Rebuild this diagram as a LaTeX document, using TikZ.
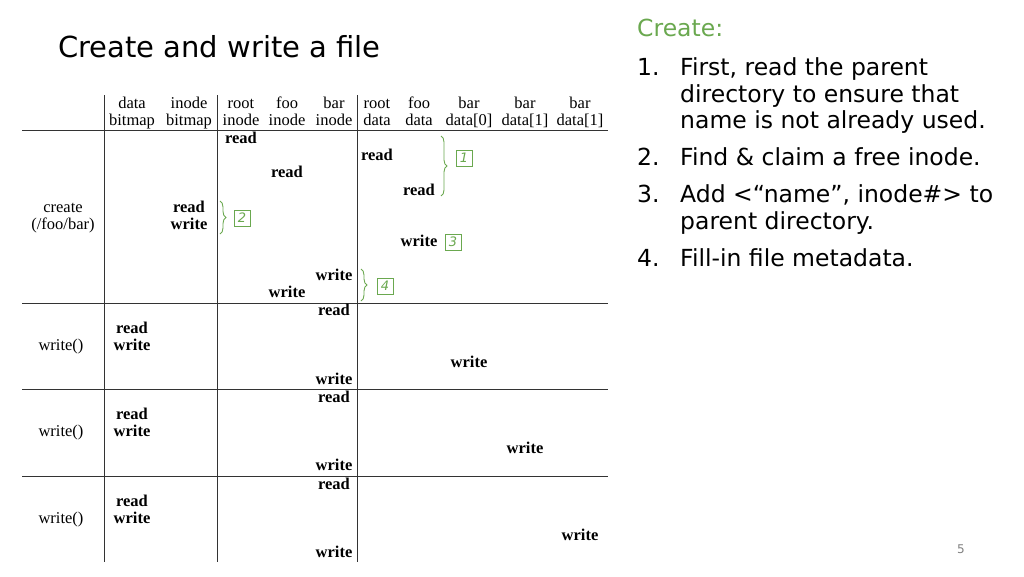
\documentclass[tikz,border=0pt]{standalone}
\usepackage{fontspec}
\setmainfont{Liberation Serif}
\newfontfamily\ui{DejaVu Sans}
\usetikzlibrary{decorations.pathreplacing}
\definecolor{gr}{HTML}{6AA84F}
\tikzset{
 hd/.style={font=\fontsize{16.5}{17}\selectfont, anchor=base, inner sep=0pt},
 op/.style={font=\fontsize{16.5}{17}\selectfont\bfseries, anchor=base, inner sep=0pt},
 lab/.style={font=\fontsize{16.5}{17}\selectfont, anchor=base, inner sep=0pt},
 gl/.style={line width=0.9pt, draw=black!80},
 br/.style={decorate, decoration={brace, amplitude=6pt}, draw=gr, line width=0.9pt},
 num/.style={draw=gr, text=gr, font=\ui\itshape\fontsize{13}{13}\selectfont, minimum size=16pt, inner sep=0pt},
 it/.style={font=\ui\fontsize{23.5}{27}\selectfont, anchor=base west, inner sep=0pt}
}
\begin{document}
\begin{tikzpicture}[x=1pt,y=-1pt]
\useasboundingbox (0,0) rectangle (1024,576);
\node[font=\ui\fontsize{29}{32}\selectfont, anchor=base west, inner sep=0pt] (title) at (58,57) {Create and write a file};
% grid
\coordinate (v1t) at (104,95); \coordinate (v1b) at (104,562);
\coordinate (v2t) at (217,95); \coordinate (v2b) at (217,562);
\coordinate (v3t) at (357,95); \coordinate (v3b) at (357,562);
\draw[gl] (v1t) -- (v1b); \draw[gl] (v2t) -- (v2b); \draw[gl] (v3t) -- (v3b);
\foreach \y/\n in {130/a,303/b,389/c,476/d}{
 \coordinate (h\n l) at (22,\y); \coordinate (h\n r) at (608,\y);
 \draw[gl] (h\n l) -- (h\n r);}
% header
\foreach \x/\a/\b/\n in {132/data/bitmap/c1,189/inode/bitmap/c2,241/root/inode/c3,287/foo/inode/c4,334/bar/inode/c5,377/root/data/c6,419/foo/data/c7,469/bar/data[0]/c8,525/bar/data[1]/c9,580/bar/data[1]/c10}{
 \node[hd] (\n a) at (\x,108) {\a};
 \node[hd] (\n b) at (\x,125) {\b};}
% row labels
\node[lab] (r1a) at (63,212) {create};
\node[lab] (r1b) at (63,229) {(/foo/bar)};
\node[lab] (r2) at (61,350) {write()};
\node[lab] (r3) at (61,436) {write()};
\node[lab] (r4) at (61,523) {write()};
% create
\node[op] (o1) at (241,143) {read};
\node[op] (o2) at (287,177) {read};
\node[op] (o3) at (377,160) {read};
\node[op] (o4) at (419,195) {read};
\node[op] (o5a) at (189,212) {read};
\node[op] (o5b) at (189,229) {write};
\node[op] (o6) at (419,246) {write};
\node[op] (o7) at (334,280) {write};
\node[op] (o8) at (287,297) {write};
% write rows
\node[op] (p1) at (334,315) {read};
\node[op] (p2a) at (132,333) {read};
\node[op] (p2b) at (132,350) {write};
\node[op] (p3) at (469,367) {write};
\node[op] (p4) at (334,384) {write};
\node[op] (q1) at (334,402) {read};
\node[op] (q2a) at (132,419) {read};
\node[op] (q2b) at (132,436) {write};
\node[op] (q3) at (525,453) {write};
\node[op] (q4) at (334,470) {write};
\node[op] (s1) at (334,489) {read};
\node[op] (s2a) at (132,506) {read};
\node[op] (s2b) at (132,523) {write};
\node[op] (s3) at (580,540) {write};
\node[op] (s4) at (334,557) {write};
% braces
\coordinate (b1t) at (441,136); \coordinate (b1b) at (441,196);
\draw[br] (b1t) -- (b1b);
\node[num] (n1) at (464,158) {1};
\coordinate (b2t) at (220,201); \coordinate (b2b) at (220,234);
\draw[br] (b2t) -- (b2b);
\node[num] (n2) at (242,218) {2};
\node[num] (n3) at (453,242) {3};
\coordinate (b4t) at (361,269); \coordinate (b4b) at (361,301);
\draw[br] (b4t) -- (b4b);
\node[num] (n4) at (385,286) {4};
% right text
\node[it, text=gr] (ct) at (637,36) {Create:};
\node[it] (m1) at (637,75) {1.};
\node[it] (l1a) at (680,75) {First, read the parent};
\node[it] (l1b) at (680,102) {directory to ensure that};
\node[it] (l1c) at (680,128) {name is not already used.};
\node[it] (m2) at (637,165) {2.};
\node[it] (l2) at (680,165) {Find \& claim a free inode.};
\node[it] (m3) at (637,202) {3.};
\node[it] (l3a) at (680,202) {Add <“name”, inode\#> to};
\node[it] (l3b) at (680,229) {parent directory.};
\node[it] (m4) at (637,266) {4.};
\node[it] (l4) at (680,266) {Fill-in file metadata.};
\node[font=\ui\fontsize{12}{12}\selectfont, text=gray] (pg) at (961,549) {5};
\end{tikzpicture}
\end{document}
